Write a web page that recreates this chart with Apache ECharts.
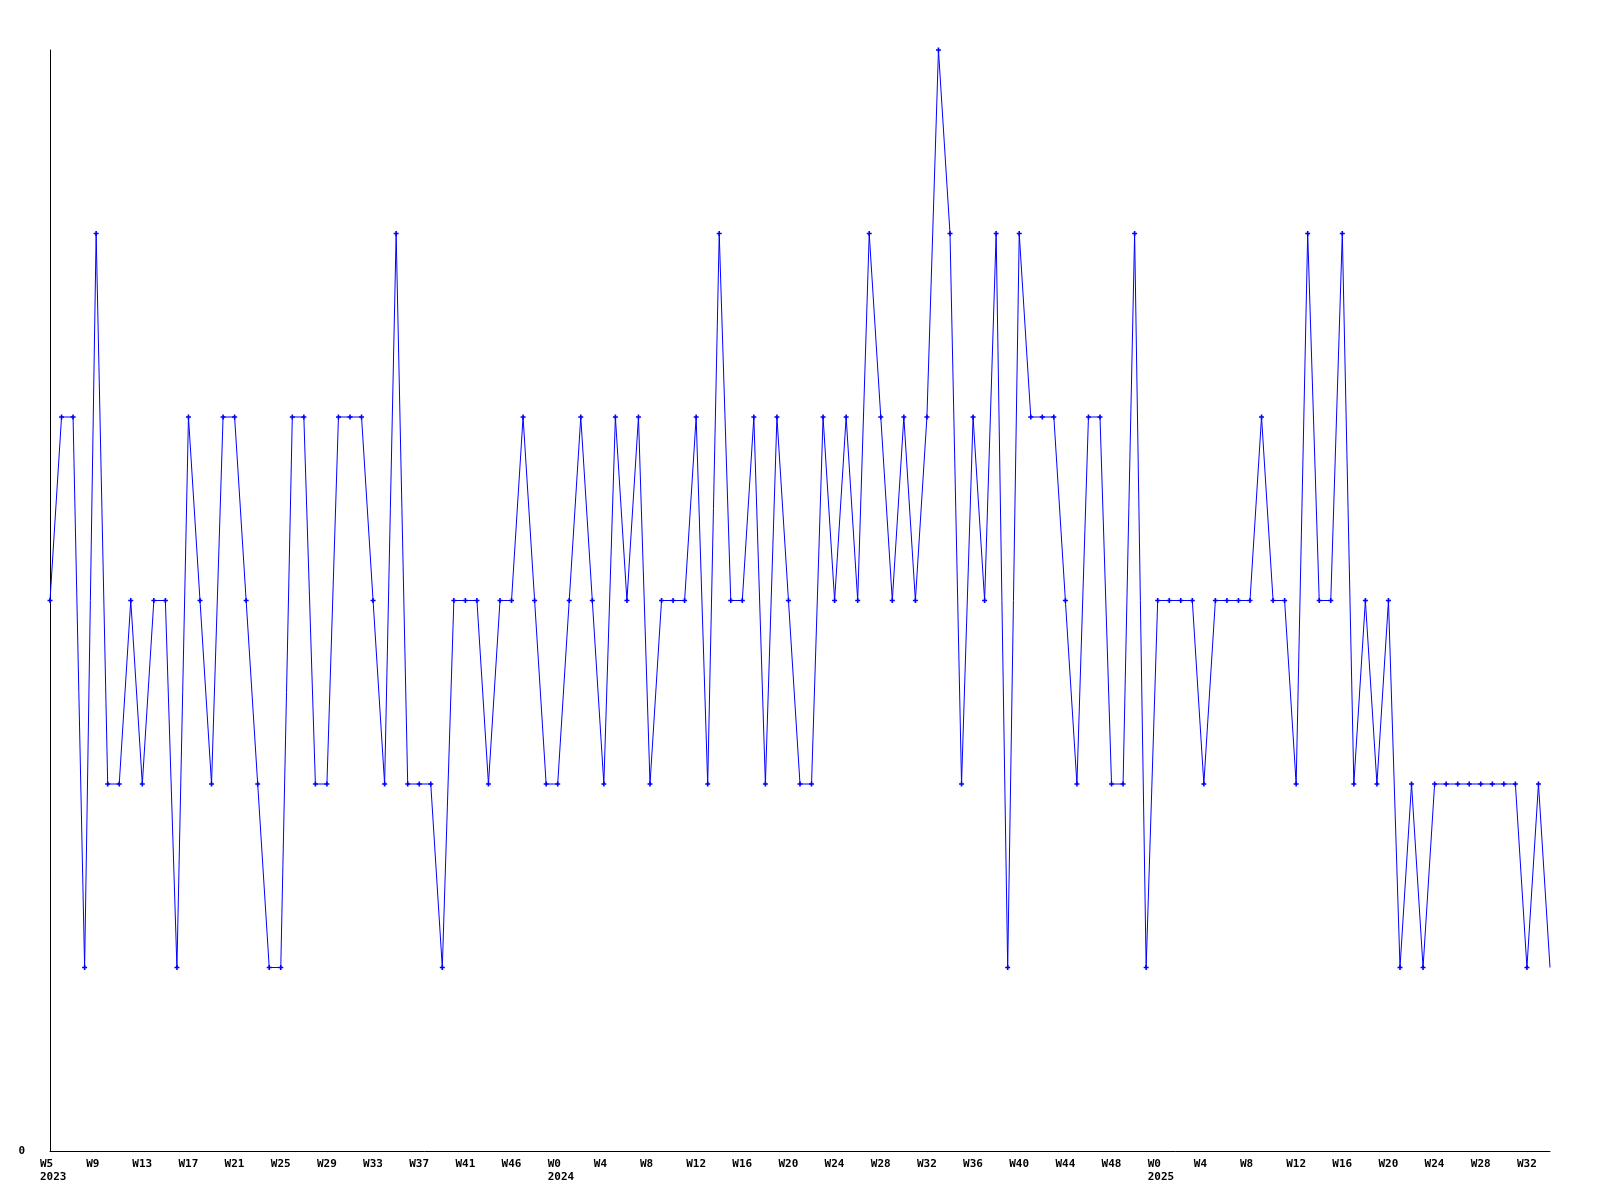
<!DOCTYPE html>
<html>
<head>
<meta charset="utf-8">
<script src="https://cdn.jsdelivr.net/npm/echarts@6/dist/echarts.min.js"></script>
<style>
html,body{margin:0;padding:0;background:#fff;}
#chart{width:1600px;height:1200px;}
</style>
</head>
<body>
<div id="chart"></div>
<script>
// Tick labels, one every 4 points (index 0,4,8,...)
const tickLabels = [
  'W5\n2023','W9','W13','W17','W21','W25','W29','W33','W37','W41','W46',
  'W0\n2024','W4','W8','W12','W16','W20','W24','W28','W32','W36','W40','W44','W48',
  'W0\n2025','W4','W8','W12','W16','W20','W24','W28','W32'
];
// Weekly values
const values = [
  3,4,4,1,5,2,2,3,2,3,
  3,1,4,3,2,4,4,3,2,1,
  1,4,4,2,2,4,4,4,3,2,
  5,2,2,2,1,3,3,3,2,3,
  3,4,3,2,2,3,4,3,2,4,
  3,4,2,3,3,3,4,2,5,3,
  3,4,2,4,3,2,2,4,3,4,
  3,5,4,3,4,3,4,6,5,2,
  4,3,5,1,5,4,4,4,3,2,
  4,4,2,2,5,1,3,3,3,3,
  2,3,3,3,3,4,3,3,2,5,
  3,3,5,2,3,2,3,1,2,1,
  2,2,2,2,2,2,2,2,1,2,
  1
];
const yMax = 6;
const lastIdx = values.length - 1;

const seriesData = values.map((v, i) => i === lastIdx ? {value: [i, v], symbol: 'none'} : [i, v]);

const chart = echarts.init(document.getElementById('chart'), null, {renderer: 'canvas'});
const labelFont = {fontFamily: 'DejaVu Sans Mono', fontWeight: 'bold', fontSize: 11, color: '#000', lineHeight: 13};

chart.setOption({
  animation: false,
  backgroundColor: '#fff',
  grid: [
    {left: 50, right: 50, top: 50, bottom: 49, containLabel: false},
    {left: 40, right: 60, top: 50, bottom: 49, containLabel: false}
  ],
  xAxis: [
    {
      gridIndex: 0, type: 'value', min: 0, max: lastIdx, interval: 4,
      axisLine: {show: true, onZero: false, lineStyle: {color: '#000', width: 1}},
      axisTick: {show: false}, axisLabel: {show: false}, splitLine: {show: false}
    },
    {
      gridIndex: 1, type: 'value', min: 0, max: lastIdx, interval: 4,
      axisLine: {show: false}, axisTick: {show: false}, splitLine: {show: false},
      axisLabel: Object.assign({
        show: true, align: 'left', verticalAlign: 'top', margin: 7,
        showMinLabel: true, showMaxLabel: false,
        formatter: v => (v % 4 === 0 && tickLabels[v / 4] !== undefined) ? tickLabels[v / 4] : ''
      }, labelFont)
    }
  ],
  yAxis: [
    {
      gridIndex: 0, type: 'value', min: 0, max: yMax, interval: yMax,
      axisLine: {show: true, lineStyle: {color: '#000', width: 1}},
      axisTick: {show: false}, splitLine: {show: false},
      axisLabel: Object.assign({margin: 25, formatter: v => v === 0 ? '0' : ''}, labelFont)
    },
    {
      gridIndex: 1, type: 'value', min: 0, max: yMax, show: false
    }
  ],
  series: [{
    type: 'line',
    xAxisIndex: 0, yAxisIndex: 0,
    data: seriesData,
    symbol: 'path://M1.7,0H3.3V1.7H5V3.3H3.3V5H1.7V3.3H0V1.7H1.7Z',
    symbolSize: 5,
    showAllSymbol: true,
    lineStyle: {color: '#0000ff', width: 1},
    itemStyle: {color: '#0000ff'},
    emphasis: {disabled: true}
  }]
});
</script>
</body>
</html>
